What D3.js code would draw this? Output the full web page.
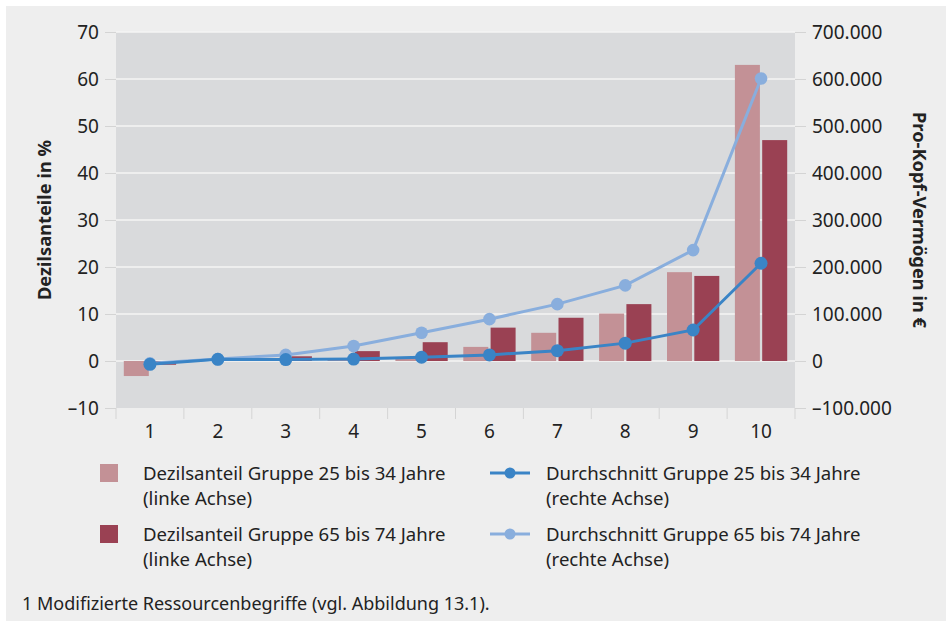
<!DOCTYPE html>
<html>
  <head>
    <meta charset="utf-8">
    <script src="https://d3js.org/d3.v7.min.js"></script>
    <style>
      body { margin: 0; background: #fff; }
      text { font-family: "Noto Sans", sans-serif; fill: #222; }
      .tick text { font-size: 19px; }
      .lab { font-size: 18.3px; font-weight: bold; }
      .leg { font-size: 18.6px; }
      .foot { font-size: 18px; }
    </style>
  </head>
  <body>
    <div id="chart"></div>
    <script>
      // Data
      const deciles = ["1", "2", "3", "4", "5", "6", "7", "8", "9", "10"];
      const shareYoung = [-3.2, 0.2, 0.2, 0.3, 0.8, 3.0, 6.0, 10.1, 18.9, 63.0];
      const shareOld = [-0.8, 0.3, 1.0, 2.1, 4.0, 7.1, 9.2, 12.1, 18.1, 47.0];
      const avgYoung = [-7000, 3600, 3000, 4000, 8000, 13000, 22000, 38000, 66000, 208000];
      const avgOld = [-5000, 4000, 13000, 32000, 60000, 89000, 121000, 161000, 236000, 601000];
      const leftTicks = [-10, 0, 10, 20, 30, 40, 50, 60, 70];
      const rightTicks = [-100000, 0, 100000, 200000, 300000, 400000, 500000, 600000, 700000];

      const W = 952, H = 627;
      const plot = { left: 116, right: 795, top: 32, bottom: 408 };

      const colLightBar = "#c39196", colDarkBar = "#9a4153";
      const colDarkLine = "#3a84c6", colLightLine = "#89aedd";

      const svg = d3.select("#chart").append("svg")
        .attr("width", W).attr("height", H);

      svg.append("rect").attr("x", 6).attr("y", 6)
        .attr("width", W - 12).attr("height", H - 12).attr("fill", "#eeeeee");

      const x = d3.scaleBand().domain(deciles)
        .range([plot.left, plot.right]).paddingInner(0).paddingOuter(0);
      const yL = d3.scaleLinear().domain([-10, 70]).range([plot.bottom, plot.top]);
      const yR = d3.scaleLinear().domain([-100000, 700000]).range([plot.bottom, plot.top]);

      svg.append("rect")
        .attr("x", plot.left).attr("y", plot.top)
        .attr("width", plot.right - plot.left).attr("height", plot.bottom - plot.top)
        .attr("fill", "#d9dadc");

      // gridlines
      svg.append("g").selectAll("line").data(leftTicks.slice(1)).enter()
        .append("line")
        .attr("x1", plot.left).attr("x2", plot.right)
        .attr("y1", d => yL(d)).attr("y2", d => yL(d))
        .attr("stroke", "#f4f4f4").attr("stroke-width", 1.5);

      // left axis
      const axL = svg.append("g").attr("transform", `translate(${plot.left},0)`)
        .call(d3.axisLeft(yL).tickValues(leftTicks).tickSize(11).tickPadding(6)
          .tickFormat(d => d < 0 ? "\u2013" + Math.abs(d) : d));
      axL.select(".domain").remove();
      axL.selectAll(".tick line").attr("stroke", "#d4d4d4");

      // right axis
      const fmtR = d => {
        const s = d3.format(",")(Math.abs(d)).replace(/,/g, ".");
        return d < 0 ? "\u2013" + s : s;
      };
      const axR = svg.append("g").attr("transform", `translate(${plot.right},0)`)
        .call(d3.axisRight(yR).tickValues(rightTicks).tickSize(11).tickPadding(6)
          .tickFormat(fmtR));
      axR.select(".domain").remove();
      axR.selectAll(".tick line").attr("stroke", "#d4d4d4");

      // bottom axis: category separators
      const axB = svg.append("g").attr("transform", `translate(0,${plot.bottom})`)
        .call(d3.axisBottom(x).tickSize(0).tickPadding(17));
      axB.select(".domain").remove();
      svg.append("g").selectAll("line")
        .data(deciles.map(d => x(d)).concat([plot.right])).enter()
        .append("line")
        .attr("x1", d => d).attr("x2", d => d)
        .attr("y1", plot.bottom).attr("y2", plot.bottom + 11)
        .attr("stroke", "#d4d4d4");

      // bars
      const bw = 25, gap = 2.3;
      const off = (x.bandwidth() - 2 * bw - gap) / 2;
      const bars = svg.append("g");
      bars.selectAll(".young").data(shareYoung).enter().append("rect")
        .attr("x", (d, i) => x(deciles[i]) + off)
        .attr("width", bw)
        .attr("y", d => yL(Math.max(0, d)))
        .attr("height", d => Math.abs(yL(d) - yL(0)))
        .attr("fill", colLightBar);
      bars.selectAll(".old").data(shareOld).enter().append("rect")
        .attr("x", (d, i) => x(deciles[i]) + off + bw + gap)
        .attr("width", bw)
        .attr("y", d => yL(Math.max(0, d)))
        .attr("height", d => Math.abs(yL(d) - yL(0)))
        .attr("fill", colDarkBar);

      // lines
      const cx = i => x(deciles[i]) + x.bandwidth() / 2;
      const line = d3.line().x((d, i) => cx(i)).y(d => yR(d));

      function drawSeries(vals, color, width, r) {
        const g = svg.append("g");
        g.append("path").datum(vals).attr("d", line)
          .attr("fill", "none").attr("stroke", color).attr("stroke-width", width);
        g.selectAll("circle").data(vals).enter().append("circle")
          .attr("cx", (d, i) => cx(i)).attr("cy", d => yR(d))
          .attr("r", r).attr("fill", color);
      }
      drawSeries(avgOld, colLightLine, 3, 6.3);
      drawSeries(avgYoung, colDarkLine, 3, 6.5);

      // axis titles
      svg.append("text").attr("class", "lab")
        .attr("transform", `translate(51,${(plot.top + plot.bottom) / 2}) rotate(-90)`)
        .attr("text-anchor", "middle").text("Dezilsanteile in %");
      svg.append("text").attr("class", "lab")
        .attr("transform", `translate(913,${(plot.top + plot.bottom) / 2}) rotate(90)`)
        .attr("text-anchor", "middle").text("Pro-Kopf-Vermögen in €");

      // legend
      const legBars = [
        { color: colLightBar, y: 464, text: ["Dezilsanteil Gruppe 25 bis 34 Jahre", "(linke Achse)"] },
        { color: colDarkBar, y: 525, text: ["Dezilsanteil Gruppe 65 bis 74 Jahre", "(linke Achse)"] }
      ];
      legBars.forEach(l => {
        svg.append("rect").attr("x", 100).attr("y", l.y)
          .attr("width", 18).attr("height", 18).attr("fill", l.color);
        l.text.forEach((t, k) => {
          svg.append("text").attr("class", "leg")
            .attr("x", 143).attr("y", l.y + 16 + k * 25).text(t);
        });
      });
      const legLines = [
        { color: colDarkLine, y: 473, text: ["Durchschnitt Gruppe 25 bis 34 Jahre", "(rechte Achse)"] },
        { color: colLightLine, y: 534, text: ["Durchschnitt Gruppe 65 bis 74 Jahre", "(rechte Achse)"] }
      ];
      legLines.forEach(l => {
        svg.append("line").attr("x1", 490).attr("x2", 530)
          .attr("y1", l.y).attr("y2", l.y)
          .attr("stroke", l.color).attr("stroke-width", 3);
        svg.append("circle").attr("cx", 510).attr("cy", l.y).attr("r", 5.5).attr("fill", l.color);
        l.text.forEach((t, k) => {
          svg.append("text").attr("class", "leg")
            .attr("x", 546).attr("y", l.y + 7 + k * 25).text(t);
        });
      });

      svg.append("text").attr("class", "foot")
        .attr("x", 22).attr("y", 610)
        .text("1 Modifizierte Ressourcenbegriffe (vgl. Abbildung 13.1).");
    </script>
  </body>
</html>
